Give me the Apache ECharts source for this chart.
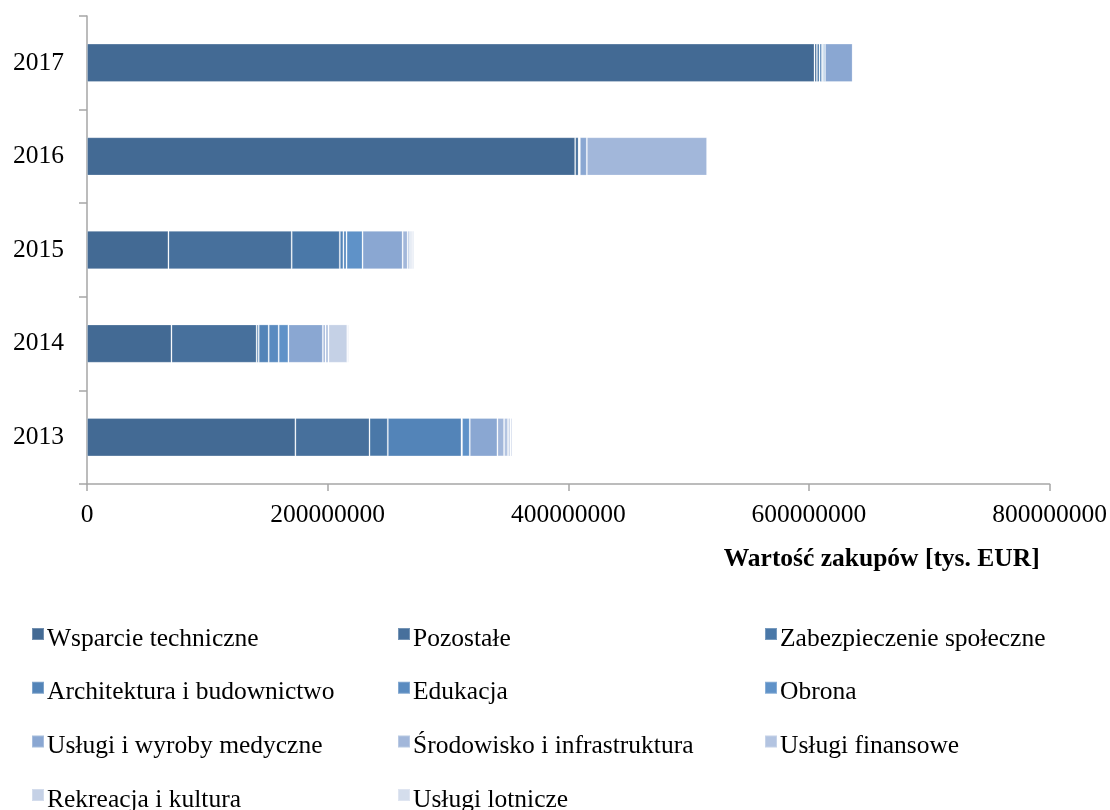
<!DOCTYPE html>
<html>
<head>
<meta charset="utf-8">
<script src="https://cdn.jsdelivr.net/npm/echarts@6/dist/echarts.min.js"></script>
<style>html,body{margin:0;padding:0;background:#fff}#c{width:1110px;height:810px}</style>
</head>
<body>
<div id="c"></div>
<script>
const years = ['2013', '2014', '2015', '2016', '2017'];
const seriesNames = [
  'Wsparcie techniczne', 'Pozostałe', 'Zabezpieczenie społeczne',
  'Architektura i budownictwo', 'Edukacja', 'Obrona',
  'Usługi i wyroby medyczne', 'Środowisko i infrastruktura', 'Usługi finansowe',
  'Rekreacja i kultura', 'Usługi lotnicze'
];
const wsparcie       = [173200000, 70200000, 67700000, 405700000, 604600000];
const pozostale      = [61600000, 70800000, 102400000, 2900000, 2000000];
const zabezpieczenie = [15200000, 1700000, 40000000, 0, 2200000];
const architektura   = [61200000, 8300000, 3000000, 500000, 2000000];
const edukacja       = [500000, 8300000, 2600000, 0, 1000000];
const obrona         = [6400000, 8100000, 13300000, 500000, 1500000];
const medyczne       = [23000000, 28600000, 33300000, 5800000, 23000000];
const srodowisko     = [5500000, 2200000, 4200000, 99900000, 300000];
const finansowe      = [3300000, 2500000, 1900000, 800000, 300000];
const rekreacja      = [2000000, 15600000, 1700000, 300000, 200000];
const lotnicze       = [1700000, 1300000, 1700000, 400000, 200000];
const xTicks = [0, 200000000, 400000000, 600000000, 800000000];

const seriesValues = [wsparcie, pozostale, zabezpieczenie, architektura, edukacja, obrona,
  medyczne, srodowisko, finansowe, rekreacja, lotnicze];
const colors = ['#436A94', '#47709C', '#4A78A8', '#5384B8', '#5A8BC0', '#5F92C8',
  '#8AA7D2', '#A2B7DA', '#B3C4E1', '#C5D1E6', '#D4DDEC'];

const font = 'Liberation Serif';
const fs = 25.5;
const axisGray = '#A6A6A6';

// square sitting in the upper part of the legend item (invisible point extends the box downward)
const legendIcon = 'path://M0,0L12,0L12,12L0,12Z M0,22L0.01,22L0,22Z';

const legendCols = [31, 397, 764];
const legends = seriesNames.map((n, i) => ({
  left: legendCols[i % 3],
  top: 626 + Math.floor(i / 3) * 53.7,
  padding: 0,
  icon: legendIcon,
  itemWidth: 12,
  itemHeight: 22,
  selectedMode: false,
  data: [n],
  textStyle: { fontFamily: font, fontSize: fs, color: '#000', lineHeight: 20, padding: [0, 0, 0, -2] }
}));

const option = {
  animation: false,
  color: colors,
  textStyle: { fontFamily: font },
  grid: { left: 87, right: 60, top: 16, bottom: 326, containLabel: false },
  legend: legends,
  xAxis: {
    type: 'value',
    min: xTicks[0],
    max: xTicks[xTicks.length - 1],
    interval: xTicks[1] - xTicks[0],
    name: 'Wartość zakupów [tys. EUR]',
    nameLocation: 'end',
    nameGap: -10,
    nameTextStyle: { fontFamily: font, fontSize: fs, fontWeight: 'bold', color: '#000',
      align: 'right', verticalAlign: 'top', padding: [62, 0, 0, 0] },
    axisLine: { show: true, lineStyle: { color: axisGray, width: 1.5 } },
    axisTick: { show: true, length: 7, lineStyle: { color: axisGray, width: 1.5 } },
    splitLine: { show: false },
    axisLabel: { fontFamily: font, fontSize: fs, color: '#000', margin: 18,
      formatter: v => String(v) }
  },
  yAxis: {
    type: 'category',
    data: years,
    axisLine: { show: true, lineStyle: { color: axisGray, width: 1.5 } },
    axisTick: { show: true, length: 8, alignWithLabel: false, lineStyle: { color: axisGray, width: 1.5 } },
    axisLabel: { fontFamily: font, fontSize: fs, color: '#000', margin: 23 }
  },
  series: seriesNames.map((n, i) => ({
    name: n,
    type: 'bar',
    stack: 'total',
    barCategoryGap: '59%',
    data: seriesValues[i],
    itemStyle: { color: colors[i], borderColor: 'rgba(255,255,255,0.25)', borderWidth: 1 }
  }))
};

const chart = echarts.init(document.getElementById('c'), null, { renderer: 'canvas' });
chart.setOption(option);
</script>
</body>
</html>
